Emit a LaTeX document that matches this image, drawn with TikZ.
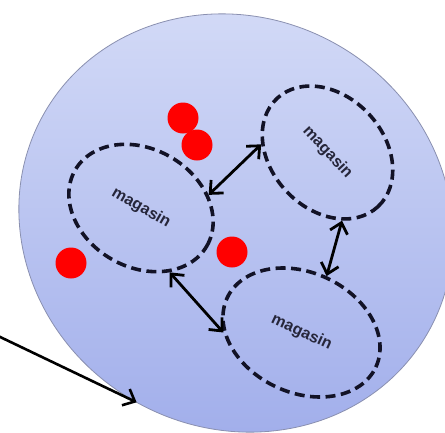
\documentclass[tikz,border=0pt]{standalone}
\usepackage{fontspec}
\setmainfont{Liberation Sans}
\usetikzlibrary{shapes.geometric,arrows.meta}
\definecolor{cellTop}{HTML}{D5DCF7}
\definecolor{cellBot}{HTML}{A2AFEB}
\definecolor{cellEdge}{HTML}{8A90B0}
\definecolor{dashInk}{HTML}{121226}
\definecolor{dotRed}{HTML}{FF0000}
\definecolor{labelInk}{HTML}{26263A}
\begin{document}
\begin{tikzpicture}[x=1pt,y=-1pt,
  cellshape/.style={ellipse, draw=cellEdge, line width=0.8pt, inner sep=0pt, outer sep=0pt,
    top color=cellTop, bottom color=cellBot},
  store/.style={ellipse, draw=dashInk, line width=3.6pt, dash pattern=on 10pt off 5.5pt,
    inner sep=0pt, font=\fontsize{16}{19}\bfseries, text=labelInk},
  dot/.style={circle, fill=dotRed, minimum size=31pt, inner sep=0pt},
  link/.style={draw=black, line width=2.8pt,
    {Straight Barb[length=10pt,width=18pt]}-{Straight Barb[length=10pt,width=18pt]}},
  feed/.style={draw=black, line width=2.6pt, -{Straight Barb[length=10pt,width=18pt]}}
]
\useasboundingbox (0,0) rectangle (445,432);
\node[cellshape, minimum width=442pt, minimum height=410pt, rotate=-30] (cell) at (236,223) {};
\node[dot] (d1) at (183,118) {};
\node[dot] (d2) at (197,145) {};
\node[dot] (d3) at (71,263) {};
\node[dot] (d4) at (232,252) {};
\node[store, minimum width=152pt, minimum height=118pt, rotate=-30] (L) at (141,208) {magasin};
\node[store, minimum width=148pt, minimum height=113pt, rotate=-47] (TR) at (327.5,152.5) {magasin};
\node[store, minimum width=164pt, minimum height=120pt, rotate=-25] (BR) at (301.5,332.5) {magasin};
\draw[link] (L.41) -- (TR.220);
\draw[link] (BR.91) -- (TR.-31);
\draw[link] (L.-36) -- (BR.205);
\coordinate (src) at (-4,335);
\draw[feed] (src) -- (cell.-89);
\end{tikzpicture}
\end{document}
